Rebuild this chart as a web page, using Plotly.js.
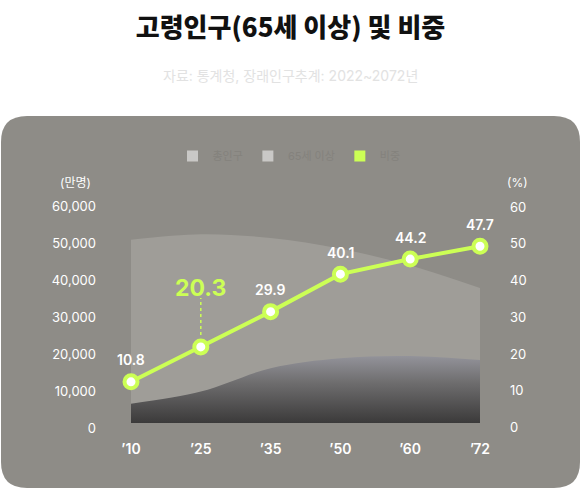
<!DOCTYPE html>
<html>
<head>
<meta charset="utf-8">
<script src="https://cdn.plot.ly/plotly-3.0.1.min.js"></script>
<style>
  html, body { margin: 0; padding: 0; background: #ffffff; }
  #chart { width: 581px; height: 489px; }
</style>
</head>
<body>
<div id="chart"></div>
<script>
// data
var years = ['\u201910', '\u201925', '\u201935', '\u201950', '\u201960', '\u201972'];
var totalPop = [49500, 51000, 50000, 47100, 42600, 36500];   // 만명
var elderPop = [5200, 8500, 14800, 17500, 18100, 17000];     // 만명
var elderPct = [10.8, 20.3, 29.9, 40.1, 44.2, 47.7];         // %
var yTicks = [0, 10000, 20000, 30000, 40000, 50000, 60000];
var pctTicks = [0, 10, 20, 30, 40, 50, 60];

var FONT = "Inter, 'Noto Sans CJK KR', sans-serif";
var GREEN = '#ccff55';

// plot box in pixels
var L = 105, R = 505, T = 201, B = 423;
var W = R - L, H = B - T;
function px(x) { return (x - L) / W; }
function py(y) { return (B - y) / H; }

var xs = years.map(function (d, i) { return i; });

function roundRect(x0, y0, x1, y1, r) {
    var rx = r / W, ry = r / H;
    var a = px(x0), b = px(x1), top = py(y0), bot = py(y1);
    return 'M' + (a + rx) + ',' + top +
        ' L' + (b - rx) + ',' + top +
        ' Q' + b + ',' + top + ' ' + b + ',' + (top - ry) +
        ' L' + b + ',' + (bot + ry) +
        ' Q' + b + ',' + bot + ' ' + (b - rx) + ',' + bot +
        ' L' + (a + rx) + ',' + bot +
        ' Q' + a + ',' + bot + ' ' + a + ',' + (bot + ry) +
        ' L' + a + ',' + (top - ry) +
        ' Q' + a + ',' + top + ' ' + (a + rx) + ',' + top + ' Z';
}

var total = {
    x: xs, y: totalPop, type: 'scatter', mode: 'lines',
    line: {shape: 'spline', smoothing: 1, width: 0, color: '#9f9d98'},
    fill: 'tozeroy', fillcolor: '#9f9d98',
    showlegend: false, hoverinfo: 'skip'
};

var elder = {
    x: xs, y: elderPop, type: 'scatter', mode: 'lines',
    line: {shape: 'spline', smoothing: 1, width: 0, color: '#8f8f93'},
    fill: 'tozeroy',
    fillgradient: {
        type: 'vertical',
        start: 0,
        stop: Math.max.apply(null, elderPop),
        colorscale: [[0, '#3b3a3a'], [0.6, '#6e6d6e'], [1, '#93939a']]
    },
    showlegend: false, hoverinfo: 'skip'
};

var pct = {
    x: xs, y: elderPct, yaxis: 'y2', type: 'scatter', mode: 'lines+markers',
    line: {color: GREEN, width: 4},
    marker: {size: 13, color: '#ffffff', line: {color: GREEN, width: 4}},
    showlegend: false, hoverinfo: 'skip'
};

// legend-only entries
function legendItem(name, color) {
    return {
        x: [null], y: [null], type: 'scatter', mode: 'markers', name: name,
        marker: {symbol: 'square', size: 11, color: color}
    };
}

var data = [total, elder, pct,
    legendItem('총인구', '#c9c8c6'),
    legendItem('65세 이상', '#c9c8c6'),
    legendItem('비중', GREEN)];

var annotations = elderPct.map(function (v, i) {
    var big = i === 1;
    return {
        x: i, y: v, xref: 'x', yref: 'y2', showarrow: false,
        text: v.toFixed(1),
        yshift: big ? 59 : 22,
        font: {family: FONT, size: big ? 23 : 14, color: big ? GREEN : '#ffffff', weight: big ? 700 : 600}
    };
});

function label(text, x, y, size, color) {
    return {
        x: px(x), y: py(y), xref: 'paper', yref: 'paper', showarrow: false,
        xanchor: 'center', yanchor: 'middle',
        text: text, font: {family: FONT, size: size, color: color, weight: 400}
    };
}
annotations.push(label('자료: 통계청, 장래인구추계: 2022~2072년', 290.5, 75, 14, '#e2e2e2'));
annotations.push(label('(만명)', 75, 182, 12, '#ffffff'));
annotations.push(label('(%)', 517, 182, 12, '#ffffff'));

var shapes = [
    {
        type: 'path', xref: 'paper', yref: 'paper', layer: 'below',
        path: roundRect(1, 116, 580, 488, 26),
        fillcolor: '#8e8c87', line: {width: 0}
    },
    {
        // dotted leader under the highlighted value
        type: 'line', xref: 'x', yref: 'y2', ysizemode: 'pixel',
        x0: 1, x1: 1, yanchor: elderPct[1], y0: 12, y1: 49,
        line: {color: GREEN, width: 1.5, dash: 'dot'}
    }
];

var layout = {
    width: 581, height: 489,
    margin: {l: L, r: 581 - R, t: T, b: 489 - B, pad: 0},
    paper_bgcolor: '#ffffff',
    plot_bgcolor: 'rgba(0,0,0,0)',
    font: {family: FONT, color: '#ffffff'},
    title: {
        text: '고령인구(65세 이상) 및 비중',
        x: 0.5, xref: 'container', xanchor: 'center',
        y: 1 - 28 / 489, yref: 'container', yanchor: 'middle',
        font: {family: "'Noto Sans CJK KR', Inter, sans-serif", size: 26, color: '#111111', weight: 900}
    },
    showlegend: true,
    legend: {
        orientation: 'h', x: px(289), xanchor: 'center', y: py(156), yanchor: 'middle',
        font: {family: FONT, size: 11, color: '#84827d'},
        bgcolor: 'rgba(0,0,0,0)', itemclick: false
    },
    xaxis: {
        range: [-26 / 69.8, 5 + 25 / 69.8],
        tickvals: xs, ticktext: years,
        showgrid: false, zeroline: false, showline: false, ticks: '',
        ticklabelstandoff: 16,
        tickfont: {family: FONT, size: 14, color: '#ffffff', weight: 600},
        fixedrange: true
    },
    yaxis: {
        range: [0, 60000], tickvals: yTicks, tickformat: ',d',
        showgrid: false, zeroline: false, showline: false, ticks: '',
        ticklabelstandoff: 8, ticklabelshift: 5,
        tickfont: {family: FONT, size: 13, color: '#ffffff'},
        fixedrange: true
    },
    yaxis2: {
        range: [-0.4, 60], tickvals: pctTicks, overlaying: 'y', side: 'right',
        showgrid: false, zeroline: false, showline: false, ticks: '',
        ticklabelstandoff: 4, ticklabelshift: 6,
        tickfont: {family: FONT, size: 13, color: '#ffffff'},
        fixedrange: true
    },
    annotations: annotations,
    shapes: shapes,
    hovermode: false
};

Plotly.newPlot('chart', data, layout, {displayModeBar: false, staticPlot: true});
</script>
</body>
</html>
